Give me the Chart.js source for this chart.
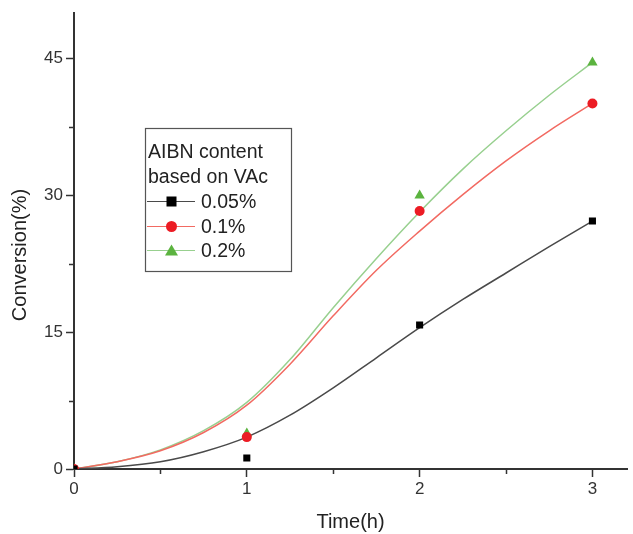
<!DOCTYPE html>
<html>
<head>
<meta charset="utf-8">
<script src="https://cdn.jsdelivr.net/npm/chart.js@4.4.1/dist/chart.umd.min.js"></script>
<style>
  html, body { margin: 0; padding: 0; background: #fff; }
  #wrap { width: 633px; height: 534px; position: relative; }
</style>
</head>
<body>
<div id="wrap"><canvas id="c"></canvas></div>
<script>
// Measured points
const times = [0, 1, 2, 3];
const conv005 = [0, 1.2, 15.8, 27.2];
const conv01 = [0, 3.5, 28.3, 40.1];
const conv02 = [0, 3.9, 30.0, 44.6];

// Fitted curves
const fitTimes = [0, 0.25, 0.5, 0.75, 1, 1.25, 1.5, 1.75, 2, 2.25, 2.5, 2.75, 3];
const fit005 = [0, 0.25, 0.8, 1.9, 3.5, 5.9, 8.9, 12.2, 15.5, 18.6, 21.5, 24.4, 27.2];
const fit01  = [0, 0.8, 2.0, 4.0, 7.0, 11.5, 16.8, 21.8, 26.1, 30.1, 33.8, 37.1, 40.1];
const fit02  = [0, 0.8, 2.1, 4.2, 7.3, 12.0, 17.7, 23.1, 28.2, 32.9, 37.1, 41.0, 44.6];

// Ticks
const xTicks = [0, 1, 2, 3];
const xMinor = [0.5, 1.5, 2.5];
const yTicks = [0, 15, 30, 45];
const yMinor = [7.5, 22.5, 37.5];

const seriesNames = ['0.05%', '0.1%', '0.2%'];
const legendTitle = ['AIBN content', 'based on VAc'];

const FONT = '"Liberation Sans", Arial, sans-serif';
const lineColors = ['#4a4a4a', '#f26a62', '#98d08f'];
const markColors = ['#000000', '#ec1c24', '#5bb33f'];
const markStyles = ['rect', 'circle', 'triangle'];

const toXY = (xs, ys) => xs.map((x, i) => ({ x: x, y: ys[i] }));

const fits = [fit005, fit01, fit02];
const pts = [conv005, conv01, conv02];

const datasets = [];
fits.forEach((f, i) => {
  datasets.push({
    label: seriesNames[i] + ' fit',
    data: toXY(fitTimes, f),
    showLine: true,
    borderColor: lineColors[i],
    borderWidth: 1.5,
    pointRadius: 0,
    cubicInterpolationMode: 'monotone',
    fill: false,
    order: 2
  });
});
pts.forEach((p, i) => {
  datasets.push({
    label: seriesNames[i],
    data: toXY(times, p),
    showLine: false,
    pointStyle: markStyles[i],
    pointRadius: i === 2 ? 6 : 5,
    backgroundColor: markColors[i],
    borderColor: markColors[i],
    borderWidth: 0,
    order: 1
  });
});

const minorTicksPlugin = {
  id: 'minorTicks',
  afterDraw(chart) {
    const ctx = chart.ctx;
    const xs = chart.scales.x, ys = chart.scales.y;
    const area = chart.chartArea;
    ctx.save();
    ctx.strokeStyle = '#333';
    ctx.lineWidth = 1.5;
    ctx.beginPath();
    xMinor.forEach(v => {
      const px = Math.round(xs.getPixelForValue(v)) + 0.5;
      ctx.moveTo(px, area.bottom);
      ctx.lineTo(px, area.bottom + 5);
    });
    yMinor.forEach(v => {
      const py = Math.round(ys.getPixelForValue(v)) + 0.5;
      ctx.moveTo(area.left, py);
      ctx.lineTo(area.left - 5, py);
    });
    ctx.stroke();
    ctx.restore();
  }
};

const yTitlePlugin = {
  id: 'yTitle',
  afterDraw(chart) {
    const ctx = chart.ctx;
    ctx.save();
    ctx.translate(20, 255);
    ctx.rotate(-Math.PI / 2);
    ctx.font = '20px ' + FONT;
    ctx.fillStyle = '#222';
    ctx.textAlign = 'center';
    ctx.textBaseline = 'middle';
    ctx.fillText('Conversion(%)', 0, 0);
    ctx.restore();
  }
};

const legendPlugin = {
  id: 'boxLegend',
  afterDraw(chart) {
    const ctx = chart.ctx;
    ctx.save();
    const bx = 145.5, by = 128.5, bw = 146, bh = 143;
    ctx.fillStyle = '#fff';
    ctx.fillRect(bx, by, bw, bh);
    ctx.strokeStyle = '#555';
    ctx.lineWidth = 1.2;
    ctx.strokeRect(bx, by, bw, bh);
    ctx.font = '19.5px ' + FONT;
    ctx.fillStyle = '#222';
    ctx.textAlign = 'left';
    ctx.textBaseline = 'alphabetic';
    ctx.fillText(legendTitle[0], 148, 158);
    ctx.fillText(legendTitle[1], 148, 183);
    const rows = [201.5, 226.5, 250.5];
    rows.forEach((cy, i) => {
      ctx.strokeStyle = lineColors[i];
      ctx.lineWidth = 1.2;
      ctx.beginPath();
      ctx.moveTo(147, cy);
      ctx.lineTo(195, cy);
      ctx.stroke();
      ctx.fillStyle = markColors[i];
      const mx = 171.5;
      if (markStyles[i] === 'rect') {
        ctx.fillRect(mx - 5, cy - 5, 10, 10);
      } else if (markStyles[i] === 'circle') {
        ctx.beginPath();
        ctx.arc(mx, cy, 5.5, 0, Math.PI * 2);
        ctx.fill();
      } else {
        ctx.beginPath();
        ctx.moveTo(mx, cy - 6);
        ctx.lineTo(mx + 6.5, cy + 5);
        ctx.lineTo(mx - 6.5, cy + 5);
        ctx.closePath();
        ctx.fill();
      }
      ctx.fillStyle = '#222';
      ctx.textBaseline = 'middle';
      ctx.fillText(seriesNames[i], 201, cy + 1);
    });
    ctx.restore();
  }
};

new Chart(document.getElementById('c'), {
  type: 'scatter',
  data: { datasets: datasets },
  options: {
    responsive: true,
    maintainAspectRatio: false,
    animation: false,
    layout: { padding: { top: 13, right: 0, bottom: 0, left: 0 } },
    plugins: {
      legend: { display: false },
      tooltip: { enabled: false }
    },
    scales: {
      x: {
        type: 'linear',
        min: 0,
        max: 3.2,
        afterBuildTicks: s => { s.ticks = xTicks.map(v => ({ value: v })); },
        afterFit: s => { s.height = 65; },
        border: { display: true, color: '#333', width: 2 },
        grid: { display: true, drawOnChartArea: false, drawTicks: true, tickLength: 8, tickColor: '#333', tickWidth: 1.5 },
        ticks: { color: '#333', font: { family: FONT, size: 17 }, padding: 2, maxRotation: 0 },
        title: { display: true, text: 'Time(h)', color: '#222', font: { family: FONT, size: 20 }, padding: { top: 0, bottom: 0 } }
      },
      y: {
        type: 'linear',
        min: 0,
        max: 50,
        afterBuildTicks: s => { s.ticks = yTicks.map(v => ({ value: v })); },
        afterFit: s => { s.width = 74; },
        border: { display: true, color: '#333', width: 2 },
        grid: { display: true, drawOnChartArea: false, drawTicks: true, tickLength: 8, tickColor: '#333', tickWidth: 1.5 },
        ticks: { color: '#333', font: { family: FONT, size: 17 }, padding: 3 },
        title: { display: false }
      }
    }
  },
  plugins: [minorTicksPlugin, yTitlePlugin, legendPlugin]
});
</script>
</body>
</html>
